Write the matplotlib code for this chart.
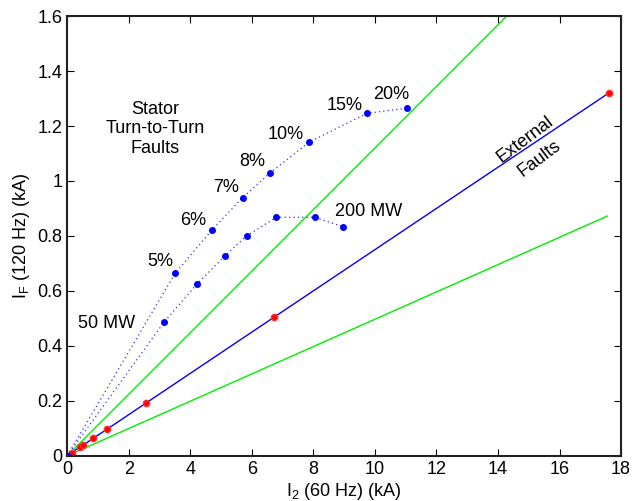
import matplotlib
matplotlib.use('Agg')
import matplotlib.pyplot as plt
import numpy as np

plt.rcParams['font.family'] = ['Liberation Sans', 'DejaVu Sans']
plt.rcParams['mathtext.fontset'] = 'custom'
plt.rcParams['mathtext.rm'] = 'Liberation Sans'

# stator turn-to-turn faults (% of turns shorted)
pct_x = [0, 3.51, 4.70, 5.70, 6.58, 7.86, 9.74, 11.05]
pct_y = [0, 0.664, 0.821, 0.939, 1.028, 1.141, 1.246, 1.265]
pct_labels = ['5%', '6%', '7%', '8%', '10%', '15%', '20%']
pct_label_x = [3.02, 4.10, 5.15, 6.00, 7.11, 9.01, 10.52]
pct_label_y = [0.707, 0.858, 0.976, 1.07, 1.17, 1.273, 1.313]

# loading sweep 50 MW .. 200 MW
mw_x = [0, 3.16, 4.22, 5.12, 5.83, 6.80, 8.04, 8.96]
mw_y = [0, 0.488, 0.625, 0.727, 0.800, 0.868, 0.868, 0.834]

# external faults
ext_x = [0, 0.15, 0.42, 0.51, 0.845, 1.31, 2.56, 6.73, 17.6]
ext_y = [0, 0.012, 0.033, 0.038, 0.064, 0.098, 0.192, 0.505, 1.32]

# boundary lines (slopes)
upper_slope = 0.112
lower_slope = 0.0497
lower_end = 17.55

fig = plt.figure(figsize=(6.39, 5.01), dpi=100)
ax = fig.add_axes([0.105, 0.09, 0.867, 0.878])

xx = np.array([0, 18])
ax.plot(xx, upper_slope * xx, color='#00ee00', lw=1)
ax.plot([0, lower_end], [0, lower_slope * lower_end], color='#00ee00', lw=1)

ax.plot(ext_x, ext_y, color='blue', lw=1)
ax.plot(ext_x[1:], ext_y[1:], 'o', color='red', ms=4.5, mec='#ff3030')
ax.plot([0], [0], 'o', color='blue', ms=4.5)

dot = (0, (1, 2.5))
ax.plot(pct_x, pct_y, ls=dot, color='#3030ff', lw=0.9)
ax.plot(pct_x[1:], pct_y[1:], 'o', color='blue', ms=4)
ax.plot(mw_x, mw_y, ls=dot, color='#3030ff', lw=0.9)
ax.plot(mw_x[1:], mw_y[1:], 'o', color='blue', ms=4)

fs = 13
for lab, tx, ty in zip(pct_labels, pct_label_x, pct_label_y):
    ax.text(tx, ty, lab, fontsize=fs, ha='center', va='center')
ax.text(9.79, 0.888, '200 MW', fontsize=fs, ha='center', va='center')
ax.text(1.29, 0.48, '50 MW', fontsize=fs, ha='center', va='center')
ax.text(2.86, 1.19, 'Stator\nTurn-to-Turn\nFaults', fontsize=fs,
        ha='center', va='center', linespacing=1.2)
ax.text(15.1, 1.115, 'External\nFaults', fontsize=fs, ha='center',
        va='center', rotation=37, linespacing=1.5)

ax.set_xlim(0, 18)
ax.set_ylim(0, 1.6)
ax.set_xticks(range(0, 19, 2))
ax.set_yticks(np.arange(0, 1.61, 0.2))
ax.set_yticklabels(['0', '0.2', '0.4', '0.6', '0.8', '1', '1.2', '1.4', '1.6'])
ax.tick_params(direction='in', top=True, right=True, labelsize=fs, length=5)
for s in ax.spines.values():
    s.set_linewidth(1.5)
    s.set_color('#222222')
ax.set_xlabel(r'I$_\mathregular{2}$ (60 Hz) (kA)', fontsize=fs, labelpad=2)
ax.set_ylabel(r'I$_\mathregular{F}$ (120 Hz) (kA)', fontsize=fs, labelpad=4)

fig.savefig('out.png', dpi=100)
